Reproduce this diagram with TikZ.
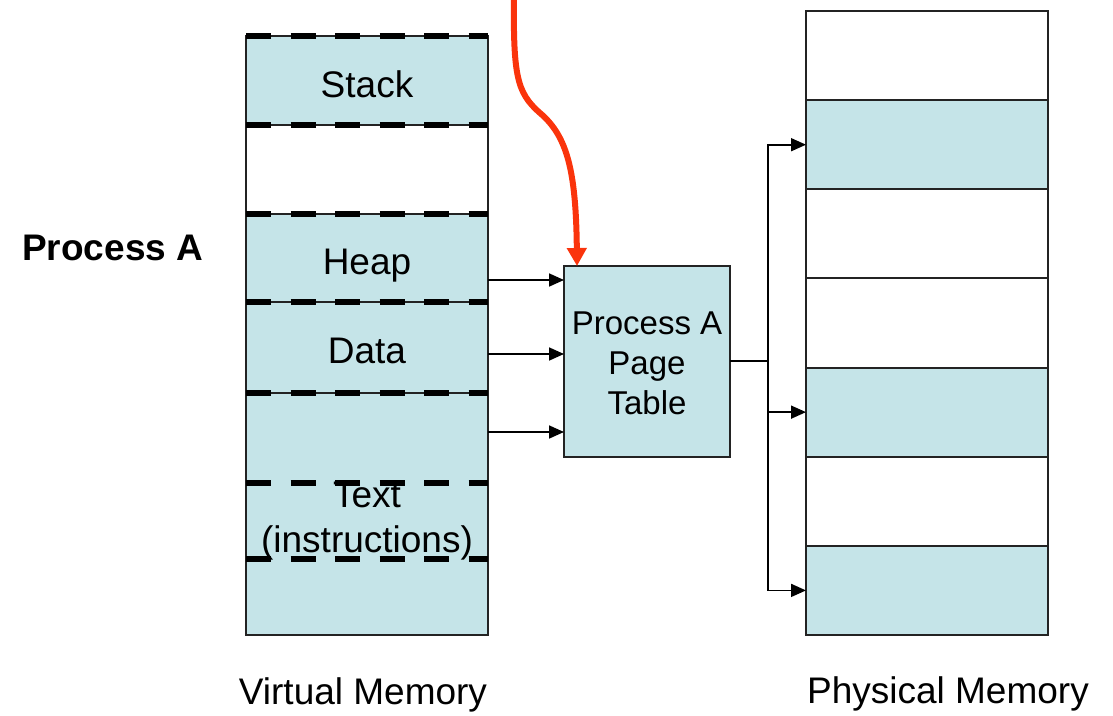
\documentclass[tikz,border=0pt]{standalone}
\usepackage{fontspec}
\setmainfont{Liberation Sans}
\usetikzlibrary{arrows.meta}
\definecolor{cellblue}{RGB}{197,228,232}
\definecolor{edge}{RGB}{35,35,35}
\definecolor{pointer}{RGB}{250,52,12}

\begin{document}
\begin{tikzpicture}[x=1pt,y=-1pt,
  vcell/.style={fill=cellblue,minimum width=242pt,inner sep=0pt,outer sep=0pt},
  prow/.style={draw=edge,line width=2pt,minimum width=242pt,minimum height=89.14pt,inner sep=0pt,outer sep=0pt},
  frame/.style={draw=edge,line width=2pt,inner sep=0pt,outer sep=0pt},
  hair/.style={draw=edge,line width=1.8pt},
  seg/.style={line width=6.5pt,dash pattern=on 25pt off 19.5pt},
  lbl/.style={font=\fontsize{37}{44}\selectfont,anchor=base,inner sep=0pt},
  link/.style={draw=black,line width=1.7pt,-{Triangle[length=15pt,width=13pt]}},
  plain/.style={draw=black,line width=1.7pt},
  redarrow/.style={draw=pointer,line width=6pt,-{Triangle[length=18pt,width=19pt]}},
]
\useasboundingbox (0,0) rectangle (1113,715);

% ---- virtual address space ----
\node[vcell,minimum height=89pt]  (vs) at (367,80.5)  {};
\node[vcell,fill=white,minimum height=89pt] (vg) at (367,169.5) {};
\node[vcell,minimum height=88pt]  (vh) at (367,258)   {};
\node[vcell,minimum height=91pt]  (vd) at (367,347.5) {};
\node[vcell,minimum height=242pt] (vr) at (367,514)   {};
\node[frame,minimum width=242pt,minimum height=599pt] (vm) at (367,335.5) {};

\node[lbl] (tstack) at (367,97)  {Stack};
\node[lbl] (theap)  at (367,274) {Heap};
\node[lbl] (tdata)  at (367,363) {Data};
\node[lbl] (ttext)  at (367,507) {Text};
\node[lbl] (tinstr) at (367,552) {(instructions)};

% region boundaries: thin rule under thick dashes
\foreach \y in {36,125,214,302,393}{
  \draw[hair] (246,\y) -- (488,\y);
  \draw[seg]  (246,\y) -- (488,\y);
}
\foreach \y in {483,559}{
  \draw[seg] (246,\y) -- (488,\y);
}

% ---- page table ----
\node[frame,fill=cellblue,minimum width=166pt,minimum height=191pt] (pt) at (647,361.5) {};
\node[align=center,font=\fontsize{33}{40}\selectfont,inner sep=0pt,anchor=center]
  (ptlbl) at (647,363) {Process A\\Page\\Table};

\coordinate (o1) at (488,280);
\coordinate (o2) at (488,354);
\coordinate (o3) at (488,432);
\draw[link] (o1) -- (pt.west |- o1);
\draw[link] (o2) -- (pt.west |- o2);
\draw[link] (o3) -- (pt.west |- o3);

% ---- physical memory ----
\foreach \i/\c in {1/white,2/cellblue,3/white,4/white,5/cellblue,6/white,7/cellblue}{
  \node[prow,fill=\c] (f\i) at (927,{11+89.14*(\i-0.5)}) {};
}

\coordinate (bus) at (768,361);
\draw[plain] (pt.east |- bus) -- (bus);
\draw[link] (bus) |- (f2.west);
\draw[link] (bus) |- (f5.west);
\draw[link] (bus) |- (f7.west);

% ---- pointer into the page table ----
\coordinate (src) at (514,-12);
\draw[redarrow] (src) .. controls (513,75) and (516,92) .. (540,113)
  .. controls (567,136) and (576,170) .. ([xshift=13pt]pt.north west);

% ---- captions ----
\node[font=\bfseries\fontsize{37}{44}\selectfont,anchor=base west,inner sep=0pt] (pa) at (22,260) {Process A};
\node[lbl] (cvm) at (363,704) {Virtual Memory};
\node[lbl] (cpm) at (948,703) {Physical Memory};
\end{tikzpicture}
\end{document}
